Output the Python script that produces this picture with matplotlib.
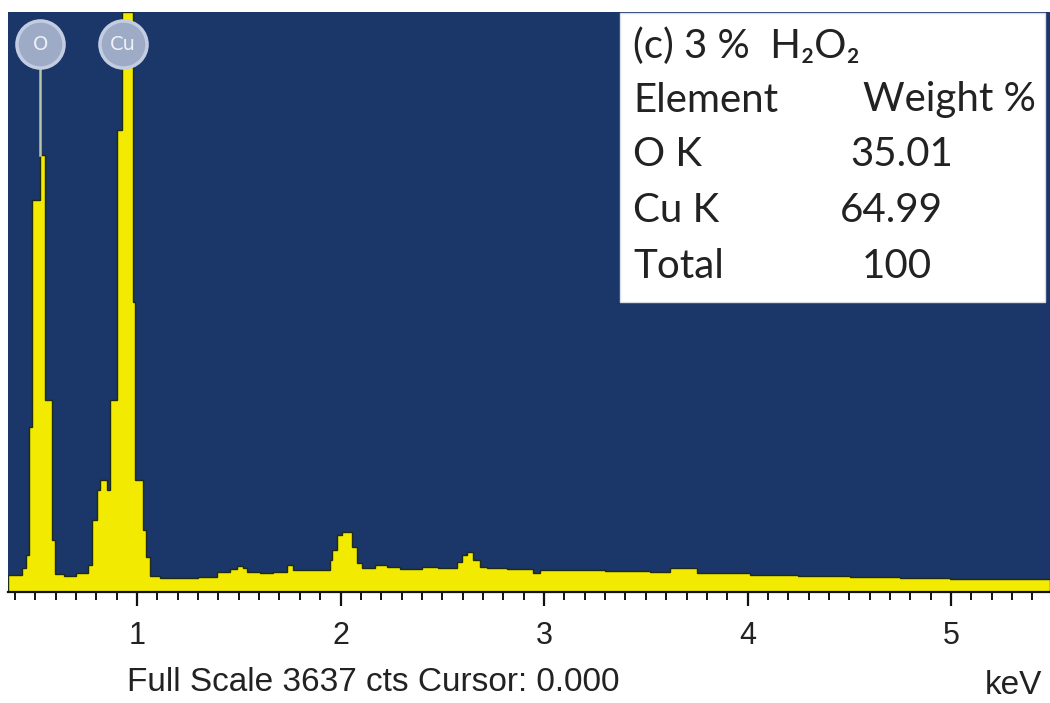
import numpy as np
import matplotlib
matplotlib.use("Agg")
import matplotlib.pyplot as plt
from matplotlib.ticker import MultipleLocator

# EDS spectrum read as bins: energy edges (keV) and counts per bin
edges = [0.366, 0.435, 0.455, 0.469, 0.484, 0.523, 0.548, 0.582, 0.597, 0.640,
         0.700, 0.759, 0.779, 0.803, 0.818, 0.853, 0.867, 0.902, 0.926, 0.980,
         0.990, 1.029, 1.044, 1.064, 1.113, 1.200, 1.300, 1.393, 1.457, 1.490,
         1.520, 1.541, 1.604, 1.670, 1.737, 1.767, 1.948, 1.956, 1.981, 2.006,
         2.055, 2.080, 2.104, 2.170, 2.230, 2.292, 2.400, 2.480, 2.571, 2.595,
         2.620, 2.653, 2.686, 2.718, 2.820, 2.947, 2.980, 3.150, 3.300, 3.521,
         3.619, 3.750, 4.012, 4.250, 4.504, 4.750, 4.995, 5.486]
counts = [107, 150, 232, 1035, 2458, 2740, 1204, 326, 110, 100,
          118, 169, 451, 640, 702, 640, 1204, 2897, 3637, 1818,
          702, 389, 219, 100, 85, 90, 92, 125, 145, 165,
          150, 125, 118, 126, 169, 138, 201, 263, 357, 376,
          282, 182, 150, 170, 155, 145, 155, 148, 188, 232,
          251, 201, 157, 148, 145, 119, 135, 140, 130, 125,
          150, 119, 105, 98, 95, 90, 82]

full_scale = 3637
x_min, x_max = 0.366, 5.486

# element markers
elements = ["O", "Cu"]
element_keV = [0.525, 0.930]
element_peak = [2740, 3637]

# quantification table
table_title = "(c) 3 %  H\u2082O\u2082"
table_elements = ["O K", "Cu K", "Total"]
table_weights = ["35.01", "64.99", "100"]

navy = "#1b3668"
yellow = "#f2ea00"

W, H = 1050, 703
fig = plt.figure(figsize=(W / 100, H / 100), dpi=100)
ax = fig.add_axes([8 / W, 1 - 592 / H, 1 - 8 / W, (592 - 12) / H])
ax.set_facecolor(navy)

ax.stairs(counts, edges, fill=True, facecolor=yellow, edgecolor="#1f2b12",
          linewidth=1.0, zorder=2)

ax.set_xlim(x_min, x_max)
ax.set_ylim(0, full_scale)

# element labels: pale circles with a thin marker line down to the peak
marker_y = 3436
for name, e, pk in zip(elements, element_keV, element_peak):
    if pk < marker_y:
        ax.plot([e, e], [pk, marker_y - 150], color="#b8c6a6", lw=1.8, zorder=3)
    ax.scatter([e], [marker_y], s=1150, color="#9eabc6", edgecolors="#c3cde2",
               linewidths=2.5, zorder=4)
    ax.text(e, marker_y, name, ha="center", va="center", fontsize=14,
            color="#eef1f8", family="DejaVu Sans", zorder=5)

for s in ["top", "left", "right"]:
    ax.spines[s].set_visible(False)
ax.spines["bottom"].set_color("#111111")
ax.spines["bottom"].set_linewidth(1.6)
ax.set_yticks([])
ax.xaxis.set_major_locator(MultipleLocator(1))
ax.xaxis.set_minor_locator(MultipleLocator(0.1))
ax.tick_params(axis="x", which="major", direction="out", length=10, width=1.6,
               color="#111111", labelsize=22, labelcolor="#222222", pad=11)
ax.tick_params(axis="x", which="minor", direction="out", length=6, width=1.4,
               color="#111111")
for lab in ax.get_xticklabels():
    lab.set_family("Liberation Sans")

# footer
fig.text(127 / W, 1 - 691 / H, "Full Scale 3637 cts Cursor: 0.000",
         fontsize=24, family="Liberation Sans", color="#222222",
         ha="left", va="baseline")
fig.text(1042 / W, 1 - 694 / H, "keV", fontsize=24, family="Liberation Sans",
         color="#222222", ha="right", va="baseline")

# quantification box
box = plt.Rectangle((620 / W, 1 - 302 / H), 425 / W, 289 / H,
                    transform=fig.transFigure, facecolor="white",
                    edgecolor="#d8dde8", linewidth=1, zorder=6)
fig.patches.append(box)

tfont = dict(fontsize=29, family=["Lato", "DejaVu Sans"], color="#222222",
             va="center", zorder=7)
fig.text(633 / W, 1 - 46 / H, table_title, ha="left", **tfont)
fig.text(633 / W, 1 - 100 / H, "Element", ha="left", **tfont)
fig.text(1036 / W, 1 - 100 / H, "Weight %", ha="right", **tfont)
row_y = [154, 211, 266]
val_x = [850, 840, 862]
for name, val, y, vx in zip(table_elements, table_weights, row_y, val_x):
    fig.text(633 / W, 1 - y / H, name, ha="left", **tfont)
    fig.text(vx / W, 1 - y / H, val, ha="left", **tfont)

fig.savefig("out.png", dpi=100, facecolor="white")
